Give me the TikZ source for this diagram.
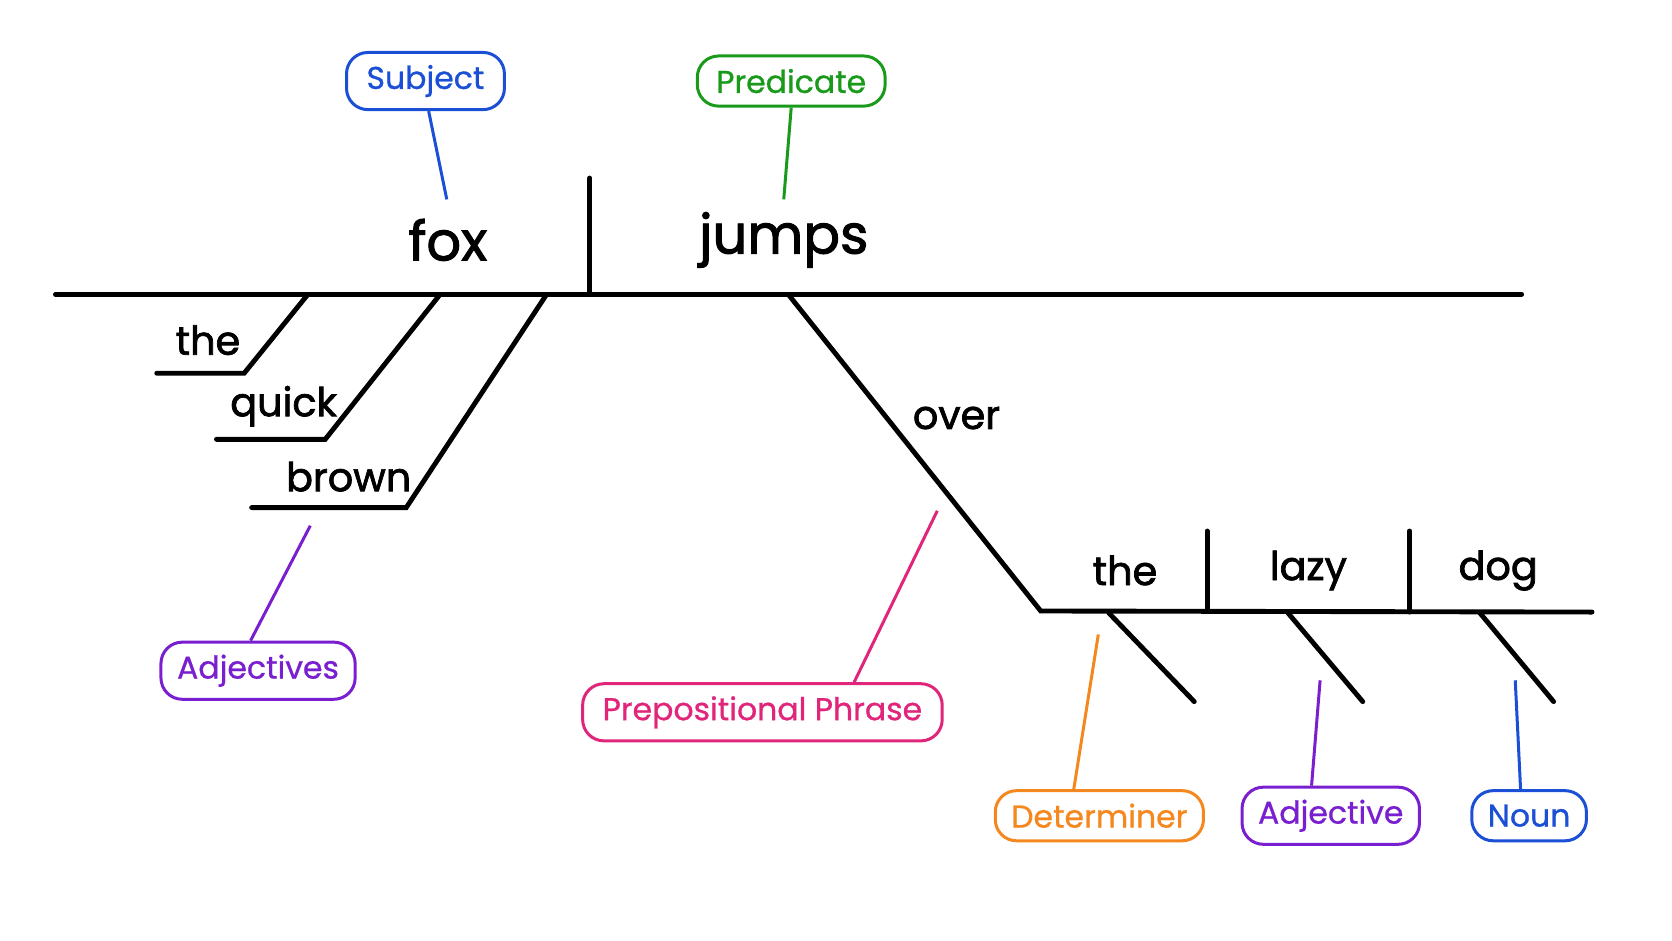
\documentclass[tikz,border=0pt]{standalone}
\usepackage{fontspec}
\setmainfont{Poppins}
\newfontfamily\labfont[FakeBold=0.8]{Poppins}
\newfontfamily\wordfont[FakeBold=1.8]{Poppins}
\begin{document}
\begin{tikzpicture}[x=0.01cm,y=-0.01cm,
 ln/.style={line width=1.3pt,line cap=round},
 big/.style={font=\wordfont\fontsize{14.5}{14.5}\selectfont, inner sep=0},
 mid/.style={font=\wordfont\fontsize{10.6}{10.6}\selectfont, inner sep=0},
 lab/.style={draw=#1,text=#1,rounded corners=2mm,line width=0.8pt,font=\labfont\fontsize{8.4}{8.4}\selectfont,minimum height=0.47cm,inner xsep=1.5mm},
 cn/.style={draw=#1,line width=0.8pt}]
\definecolor{cblue}{HTML}{1A4FD6}
\definecolor{cgreen}{HTML}{1A9A1A}
\definecolor{cpurple}{HTML}{7A1FD0}
\definecolor{cpink}{HTML}{E0267A}
\definecolor{corange}{HTML}{F5871F}
\useasboundingbox (0,0) rectangle (1568,882);
\coordinate (mL) at (52,276); \coordinate (mR) at (1427,276);
\coordinate (dv1) at (553,167); \coordinate (dv2) at (553,276);
\draw[ln] (mL) -- (mR); \draw[ln] (dv1) -- (dv2);
\node[big] (fox) at (420,225) {fox};
\node[big] (jumps) at (735,225) {jumps};
\coordinate (t1) at (288,277); \coordinate (t2) at (229,350); \coordinate (t3) at (147,350);
\coordinate (q1) at (412,277); \coordinate (q2) at (305,412); \coordinate (q3) at (203,412);
\coordinate (b1) at (512,277); \coordinate (b2) at (381,476); \coordinate (b3) at (236,476);
\draw[ln] (t1)--(t2)--(t3); \draw[ln] (q1)--(q2)--(q3); \draw[ln] (b1)--(b2)--(b3);
\node[mid] (the1) at (195,319) {the};
\node[mid] (quick) at (266,381) {quick};
\node[mid] (brown) at (327,447) {brown};
\coordinate (p1) at (740,277); \coordinate (p2) at (976,573); \coordinate (p3) at (1493,574);
\draw[ln] (p1)--(p2)--(p3);
\node[mid] (over) at (897,392) {over};
\coordinate (d1a) at (1132,498); \coordinate (d1b) at (1132,573);
\coordinate (d2a) at (1322,498); \coordinate (d2b) at (1322,574);
\draw[ln] (d1a)--(d1b); \draw[ln] (d2a)--(d2b);
\node[mid] (the2) at (1055,535) {the};
\node[mid] (lazy) at (1227,535) {lazy};
\node[mid] (dog) at (1405,535) {dog};
\coordinate (s1a) at (1040,575); \coordinate (s1b) at (1120,658);
\coordinate (s2a) at (1208,575); \coordinate (s2b) at (1278,658);
\coordinate (s3a) at (1388,575); \coordinate (s3b) at (1457,658);
\draw[ln] (s1a)--(s1b); \draw[ln] (s2a)--(s2b); \draw[ln] (s3a)--(s3b);
\node[lab=cblue, minimum width=1.48cm] (subj) at (399,76) {Subject};
\node[lab=cgreen, minimum width=1.76cm] (pred) at (742,76) {Predicate};
\node[lab=cpurple, minimum width=1.82cm, minimum height=0.5cm] (adjs) at (242,629) {Adjectives};
\node[lab=cpink, minimum width=3.37cm, minimum height=0.5cm] (pp) at (715,668) {Prepositional Phrase};
\node[lab=corange, minimum width=1.77cm] (det) at (1031,765) {Determiner};
\node[lab=cpurple, minimum width=1.51cm] (adj) at (1248,765) {Adjective};
\node[lab=cblue, minimum width=1.02cm] (noun) at (1434,765) {Noun};
\coordinate (c1) at (419,187); \coordinate (c2) at (735,187);
\coordinate (c3) at (291,493); \coordinate (c4) at (879,479);
\coordinate (c5) at (1030,595); \coordinate (c6) at (1238,638); \coordinate (c7) at (1421,638);
\draw[cn=cblue] (subj.south -| 402,0) -- (c1);
\draw[cn=cgreen] (pred.south) -- (c2);
\draw[cn=cpurple] (adjs.north -| 235,0) -- (c3);
\draw[cn=cpink] (pp.north -| 801,0) -- (c4);
\draw[cn=corange] (det.north -| 1007,0) -- (c5);
\draw[cn=cpurple] (adj.north -| 1230,0) -- (c6);
\draw[cn=cblue] (noun.north -| 1426,0) -- (c7);
\end{tikzpicture}
\end{document}
